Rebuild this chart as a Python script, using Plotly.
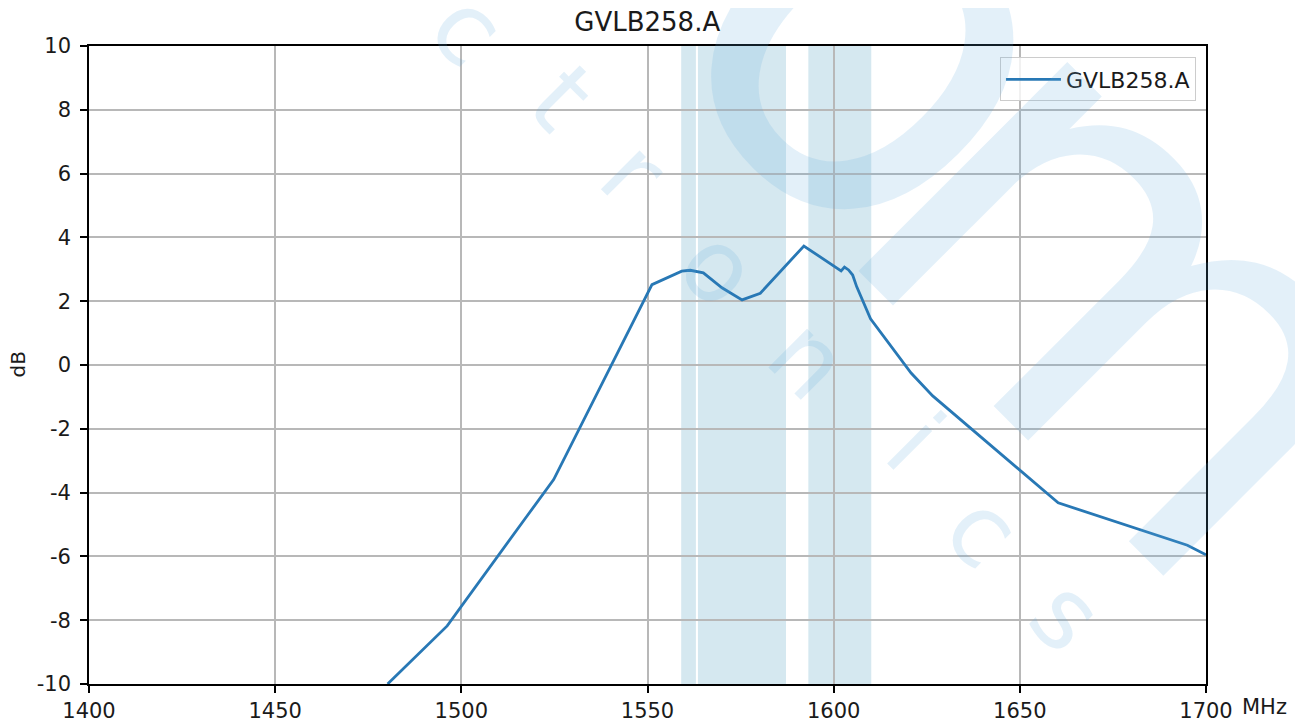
import plotly.graph_objects as go

# ---- data ----
freq_mhz = [1480.2, 1496.2, 1517.3, 1524.8, 1551.2, 1559.2, 1561.5, 1565.0, 1570.0,
            1575.4, 1580.3, 1592.0, 1602.0, 1602.9, 1604.0, 1605.1, 1606.2, 1609.9,
            1620.8, 1626.6, 1660.3, 1695.0, 1700.0]
gain_db = [-10.0, -8.18, -4.79, -3.59, 2.52, 2.94, 2.97, 2.89, 2.42,
           2.04, 2.25, 3.73, 2.95, 3.07, 2.98, 2.82, 2.45, 1.45,
           -0.25, -0.97, -4.32, -5.65, -5.95]
series_name = "GVLB258.A"

band_starts = [1559.05, 1563.55, 1593.2]
band_ends = [1563.0, 1587.2, 1610.1]

x_ticks = [1400, 1450, 1500, 1550, 1600, 1650, 1700]
y_ticks = [-10, -8, -6, -4, -2, 0, 2, 4, 6, 8, 10]
y_tick_text = [str(v) for v in y_ticks]  # ASCII hyphen like the reference

# ---- layout geometry (page pixels); the page body adds an 8px offset ----
OFF = 8
W, H = 1303 - OFF, 722 - OFF
L, R, T, B = 88.5, 1206, 46, 684          # plot area in page pixels

def px_to_paper(px, py):
    return (px - L) / (R - L), (B - py) / (B - T)

FONT = "DejaVu Sans"
TXT = "#1a1a1a"
LINE_BLUE = "#2878b5"

fig = go.Figure()
fig.add_trace(go.Scatter(x=freq_mhz, y=gain_db, mode="lines", name=series_name,
                         line=dict(color=LINE_BLUE, width=2.8), showlegend=True))

for s, e in zip(band_starts, band_ends):
    fig.add_vrect(x0=s, x1=e, fillcolor="#d5e8f0", line_width=0, layer="below", opacity=1)

# ---- watermark (decoration) ----
wm_color = "rgba(100,170,220,0.18)"
wm_letters = [("c", 462, 34), ("t", 556, 103), ("r", 629, 178), ("o", 714, 272),
              ("n", 803, 364), ("i", 910, 447), ("c", 978, 535), ("s", 1062, 620)]
annotations = []
for ch, gx, gy in wm_letters:
    xp, yp = px_to_paper(gx + 5, gy - 5)
    annotations.append(dict(text=ch, x=xp, y=yp, xref="paper", yref="paper",
                            xanchor="center", yanchor="middle", showarrow=False,
                            textangle=45, font=dict(family=FONT, size=100, color=wm_color)))
big_letters = [("o", 890, 30, 540), ("m", 1142, 290, 540)]
for ch, gx, gy, sz in big_letters:
    xp, yp = px_to_paper(gx, gy)
    annotations.append(dict(text=ch, x=xp, y=yp, xref="paper", yref="paper",
                            xanchor="center", yanchor="middle", showarrow=False,
                            textangle=45, font=dict(family=FONT, size=sz, color=wm_color)))

# unit label after last x tick
mx, my = px_to_paper(1265, 707)
annotations.append(dict(text="MHz", x=mx, y=my, xref="paper", yref="paper",
                        xanchor="center", yanchor="middle", showarrow=False,
                        font=dict(family=FONT, size=21, color=TXT)))
# y-axis label
lx, ly = px_to_paper(17, 365)
annotations.append(dict(text="dB", x=lx, y=ly, xref="paper", yref="paper",
                        xanchor="center", yanchor="middle", showarrow=False, textangle=-90,
                        font=dict(family=FONT, size=20, color=TXT)))

axis_common = dict(showline=True, linecolor="black", linewidth=1.6, mirror=True,
                   ticks="outside", ticklen=7, tickwidth=1.6, tickcolor="black",
                   showgrid=True, gridcolor="#b8b8b8", gridwidth=1.6, zeroline=False,
                   automargin=False,
                   tickfont=dict(family=FONT, size=21, color=TXT))

fig.update_layout(
    width=W, height=H,
    margin=dict(l=L - OFF, r=1303 - R, t=T - OFF, b=722 - B, pad=0),
    paper_bgcolor="white", plot_bgcolor="white",
    title=dict(text=series_name, x=((L + R) / 2 - OFF) / W, xanchor="center",
               y=1 - (22 - OFF) / H, yanchor="middle",
               font=dict(family=FONT, size=26, color=TXT)),
    xaxis=dict(range=[1400, 1700], tickvals=x_ticks, **axis_common),
    yaxis=dict(range=[-10, 10], tickvals=y_ticks, ticktext=y_tick_text,
               ticklabelstandoff=5, **axis_common),
    legend=dict(x=0.991, xanchor="right", y=0.982, yanchor="top", itemwidth=55,
                bgcolor="rgba(255,255,255,0.8)", bordercolor="#cccccc", borderwidth=1,
                font=dict(family=FONT, size=22, color=TXT)),
    annotations=annotations,
    showlegend=True,
)

fig.write_html("out.html")
